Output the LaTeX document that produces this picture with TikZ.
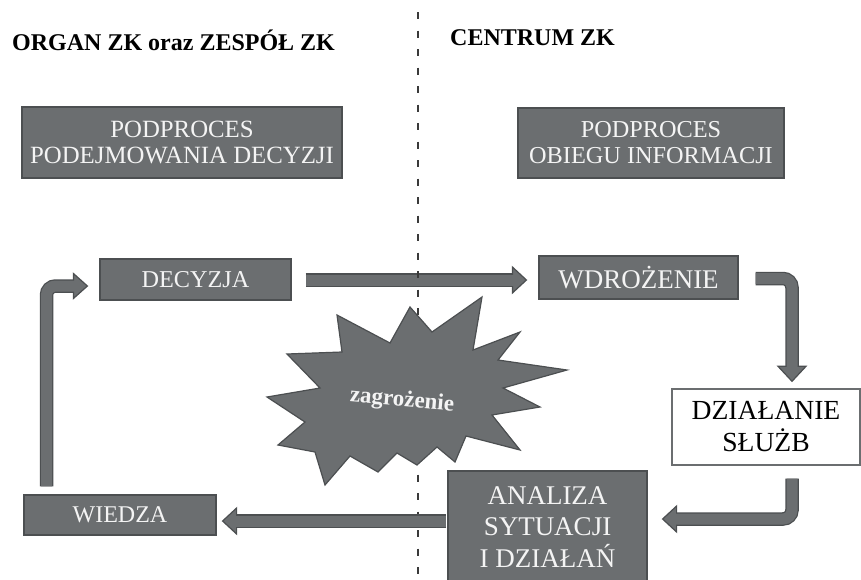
\documentclass[tikz,border=0pt]{standalone}
\usepackage{fontspec}
\setmainfont{Liberation Serif}
\usetikzlibrary{calc}

\definecolor{boxgray}{HTML}{6B6E70}
\definecolor{boxedge}{HTML}{4C4F51}
\definecolor{boxtext}{HTML}{F4F4F4}
\definecolor{divider}{HTML}{3A3A3A}

\tikzset{
  procbox/.style={rectangle, fill=boxgray, draw=boxedge, line width=1.2pt,
    text=boxtext, align=center, inner sep=0pt},
  plainbox/.style={rectangle, fill=white, draw=boxgray, line width=1.4pt,
    text=black, align=center, inner sep=0pt},
  heading/.style={anchor=base west, inner sep=0pt,
    font=\fontsize{24}{28}\selectfont\bfseries},
  shaftedge/.style={draw=boxedge, line width=13.5pt, rounded corners=9pt},
  shaftbody/.style={draw=boxgray, line width=11pt, rounded corners=9pt},
  headtri/.style={fill=boxgray, draw=boxedge, line width=1.2pt, line join=miter},
  dividerline/.style={draw=divider, line width=1.9pt, dash pattern=on 7pt off 11.5pt},
  burst/.style={fill=boxgray, draw=boxedge, line width=1.2pt, line join=miter},
}

% block arrow: outline of the shaft, the head, then the shaft body on top
\newcommand\blockarrow[2]{%
  \draw[shaftedge] #1;
  \draw[headtri] #2;
  \draw[shaftbody] #1;}

\begin{document}
\begin{tikzpicture}[x=1pt,y=-1pt]
\useasboundingbox (0,0) rectangle (861,579);
\clip (0,0) rectangle (861,579);

% column headings
\node[heading] (hl) at (12,50) {ORGAN ZK oraz ZESPÓŁ ZK};
\node[heading] (hr) at (450,45) {CENTRUM ZK};

% boxes
\node[procbox, minimum width=320pt, minimum height=71pt,
  font=\fontsize{24.8}{26}\selectfont] (ppd) at (182,142.5)
  {PODPROCES\\PODEJMOWANIA DECYZJI};
\node[procbox, minimum width=266pt, minimum height=70pt,
  font=\fontsize{24.3}{26}\selectfont] (poi) at (651,143)
  {PODPROCES\\OBIEGU INFORMACJI};
\node[procbox, minimum width=191pt, minimum height=41pt,
  font=\fontsize{24.2}{26}\selectfont] (dec) at (195.5,279.5) {DECYZJA};
\node[procbox, minimum width=199pt, minimum height=43pt,
  font=\fontsize{27}{30}\selectfont] (wdr) at (638.5,277.5) {WDROŻENIE};
\node[plainbox, minimum width=188pt, minimum height=76pt,
  font=\fontsize{27.6}{32}\selectfont] (dzs) at (766,427) {DZIAŁANIE\\SŁUŻB};
\node[procbox, minimum width=199pt, minimum height=112pt,
  font=\fontsize{27}{31.5}\selectfont] (ana) at (547.5,527)
  {ANALIZA\\SYTUACJI\\I DZIAŁAŃ};
\node[procbox, minimum width=192pt, minimum height=40pt,
  font=\fontsize{24}{26}\selectfont] (wie) at (120,515) {WIEDZA};

% decision -> implementation
\coordinate (a1s) at ($(dec.east)+(14,0.5)$);
\coordinate (a1t) at ($(a1s -| wdr.west)+(-12,0)$);
\blockarrow{(a1s) -- ($(a1t)+(-12,0)$)}{(a1t) -- ++(-14,-13) -- ++(0,26) -- cycle}

% dividing line between the two columns
\coordinate (dtop) at (418,12);
\coordinate (dbot) at (418,579);
\draw[dividerline] (dtop) -- (dbot);

% threat
\draw[burst] (267,397) -- (320,388) -- (287,354) -- (342,352) -- (337,315)
  -- (390,343) -- (410,307) -- (432,332) -- (482,297) -- (473,350)
  -- (520,332) -- (498,360) -- (567,370) -- (503,388) -- (540,407)
  -- (492,415) -- (520,450) -- (466,436) -- (455,462) -- (437,447)
  -- (417,465) -- (397,453) -- (378,472) -- (350,456) -- (325,485)
  -- (315,452) -- (278,445) -- (305,422) -- cycle;
\node[text=boxtext, rotate=-5, inner sep=0pt,
  font=\fontsize{23}{26}\selectfont\bfseries] (thr) at (402,401) {zagrożenie};

% implementation -> field action
\coordinate (a2s) at ($(wdr.east)+(17,1)$);
\coordinate (a2t) at ($(dzs.north)+(26,-7)$);
\blockarrow{(a2s) -- (a2s -| a2t) -- ($(a2t)+(0,-13)$)}{(a2t) -- ++(-14,-15) -- ++(28,0) -- cycle}

% field action -> analysis
\coordinate (a3s) at ($(dzs.south)+(26,13)$);
\coordinate (a3t) at ($(ana.east)+(15,-8)$);
\blockarrow{(a3s) -- (a3s |- a3t) -- ($(a3t)+(13,0)$)}{(a3t) -- ++(14,-13) -- ++(0,26) -- cycle}

% analysis -> knowledge
\coordinate (a4s) at ($(ana.west)+(-1,-6)$);
\coordinate (a4t) at ($(a4s -| wie.east)+(6,0)$);
\blockarrow{(a4s) -- ($(a4t)+(12,0)$)}{(a4t) -- ++(14,-13) -- ++(0,26) -- cycle}

% knowledge -> decision
\coordinate (a5s) at ($(wie.north)+(-73.5,-8)$);
\coordinate (a5t) at ($(dec.west)+(-12,6.5)$);
\blockarrow{(a5s) -- (a5s |- a5t) -- ($(a5t)+(-12,0)$)}{(a5t) -- ++(-14,-12.5) -- ++(0,25) -- cycle}

\end{tikzpicture}
\end{document}
